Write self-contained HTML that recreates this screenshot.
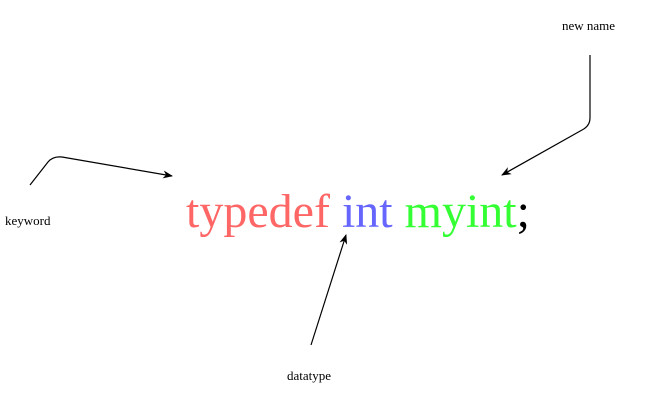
<!DOCTYPE html>
<html><head><style>
body{margin:0;width:651px;height:406px;background:#fff;position:relative;overflow:hidden;font-family:"Liberation Serif",serif}
.l{position:absolute;font-size:13px;color:#000;white-space:nowrap}
</style></head><body>
<svg width="651" height="406" style="position:absolute;left:0;top:0">
<defs><marker id="a" markerWidth="10" markerHeight="8" refX="9" refY="4" orient="auto" markerUnits="userSpaceOnUse"><path d="M0,0 L10,4 L0,8 L3,4 Z" fill="#000"/></marker></defs>
<g fill="none" stroke="#000" stroke-width="1.2">
<path d="M30,185 L48,162 Q53,156 62,157 L172,176" marker-end="url(#a)"/>
<path d="M590,55 L590,118 Q590,126 582,130 L502,175" marker-end="url(#a)"/>
<path d="M311,345 L346,235" marker-end="url(#a)"/>
</g>
<text x="186" y="227" font-family="Liberation Serif, serif" font-size="48"><tspan fill="#ff6666">typedef </tspan><tspan fill="#6666ff">int </tspan><tspan fill="#33ff33">myint</tspan><tspan fill="#000">;</tspan></text>
</svg>
<div class="l" style="left:5px;top:213px">keyword</div>
<div class="l" style="left:562px;top:18px">new name</div>
<div class="l" style="left:287px;top:368px">datatype</div>
</body></html>
